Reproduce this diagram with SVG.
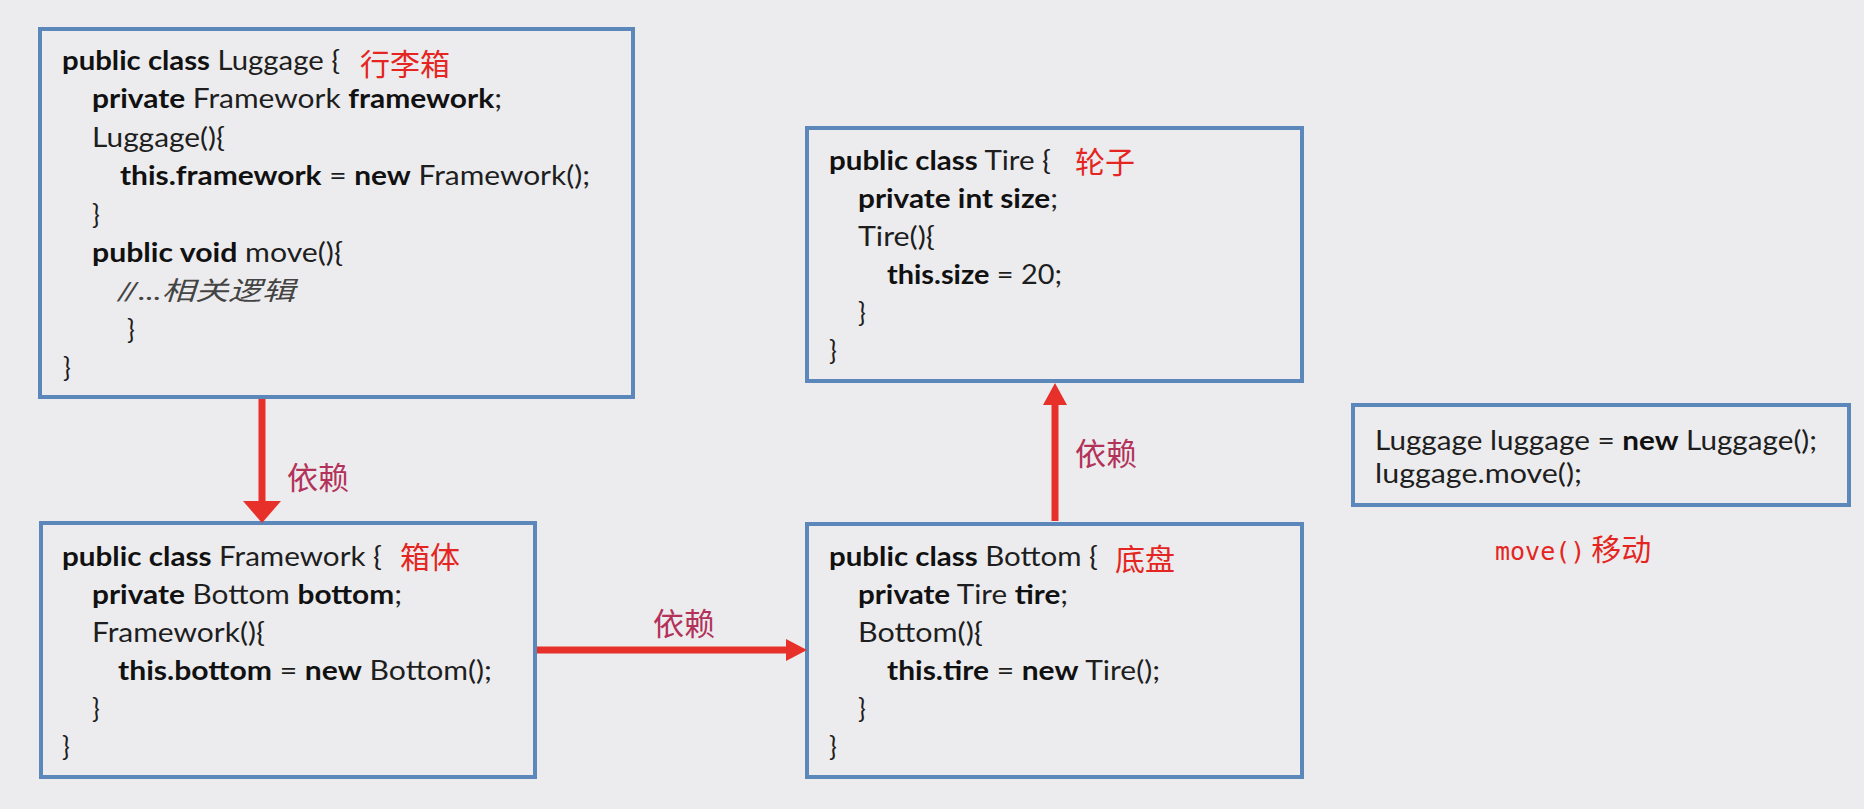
<svg xmlns="http://www.w3.org/2000/svg" width="1864" height="809" viewBox="0 0 1864 809">
<style>
 .bg{fill:#ececee}
 .box{fill:#ececee;stroke:#5b87bb;stroke-width:4}
 .code{font-family:Lato,"Noto Sans CJK SC",sans-serif;font-size:26px;fill:#1e1e1e}
 .b{font-weight:bold;fill:#111}
 .cm{font-style:italic;fill:#444}
 .red{font-family:"Noto Sans CJK SC",sans-serif;font-size:30px;fill:#e52521}
 .dep{font-family:"Noto Sans CJK SC",sans-serif;font-size:31px;fill:#b3325a}
 .mono{font-family:"DejaVu Sans Mono",monospace;font-size:25px}
 .shaft{stroke:#e8302a;stroke-width:7;fill:none}
 .head{fill:#e8302a}
</style>
<rect class="bg" x="0" y="0" width="1864" height="809"/>

<g id="luggage">
 <rect class="box" x="40" y="29" width="593" height="368"/>
 <text class="code" x="62" y="70" textLength="278" lengthAdjust="spacingAndGlyphs"><tspan class="b">public class</tspan> Luggage {</text>
 <text class="red" x="360" y="75">行李箱</text>
 <text class="code" x="92" y="108" textLength="410" lengthAdjust="spacingAndGlyphs"><tspan class="b">private</tspan> Framework <tspan class="b">framework</tspan>;</text>
 <text class="code" x="92" y="147" textLength="133" lengthAdjust="spacingAndGlyphs">Luggage(){</text>
 <text class="code" x="120" y="185" textLength="470" lengthAdjust="spacingAndGlyphs"><tspan class="b">this.framework</tspan> = <tspan class="b">new</tspan> Framework();</text>
 <text class="code" x="92" y="224">}</text>
 <text class="code" x="92" y="262" textLength="251" lengthAdjust="spacingAndGlyphs"><tspan class="b">public void</tspan> move(){</text>
 <text class="code cm" x="117" y="300" textLength="178" lengthAdjust="spacingAndGlyphs">//...相关逻辑</text>
 <text class="code" x="127" y="339">}</text>
 <text class="code" x="63" y="377">}</text>
</g>

<g id="framework">
 <rect class="box" x="41" y="523" width="494" height="254"/>
 <text class="code" x="62" y="566" textLength="320" lengthAdjust="spacingAndGlyphs"><tspan class="b">public class</tspan> Framework {</text>
 <text class="red" x="400" y="568">箱体</text>
 <text class="code" x="92" y="604" textLength="310" lengthAdjust="spacingAndGlyphs"><tspan class="b">private</tspan> Bottom <tspan class="b">bottom</tspan>;</text>
 <text class="code" x="92" y="642" textLength="173" lengthAdjust="spacingAndGlyphs">Framework(){</text>
 <text class="code" x="118" y="680" textLength="374" lengthAdjust="spacingAndGlyphs"><tspan class="b">this.bottom</tspan> = <tspan class="b">new</tspan> Bottom();</text>
 <text class="code" x="92" y="718">}</text>
 <text class="code" x="62" y="756">}</text>
</g>

<g id="tire">
 <rect class="box" x="807" y="128" width="495" height="253"/>
 <text class="code" x="829" y="170" textLength="222" lengthAdjust="spacingAndGlyphs"><tspan class="b">public class</tspan> Tire {</text>
 <text class="red" x="1075" y="173">轮子</text>
 <text class="code" x="858" y="208" textLength="200" lengthAdjust="spacingAndGlyphs"><tspan class="b">private int size</tspan>;</text>
 <text class="code" x="858" y="246" textLength="77" lengthAdjust="spacingAndGlyphs">Tire(){</text>
 <text class="code" x="887" y="284" textLength="175" lengthAdjust="spacingAndGlyphs"><tspan class="b">this.size</tspan> = 20;</text>
 <text class="code" x="858" y="322">}</text>
 <text class="code" x="829" y="360">}</text>
</g>

<g id="bottom">
 <rect class="box" x="807" y="524" width="495" height="253"/>
 <text class="code" x="829" y="566" textLength="269" lengthAdjust="spacingAndGlyphs"><tspan class="b">public class</tspan> Bottom {</text>
 <text class="red" x="1115" y="570">底盘</text>
 <text class="code" x="858" y="604" textLength="210" lengthAdjust="spacingAndGlyphs"><tspan class="b">private</tspan> Tire <tspan class="b">tire</tspan>;</text>
 <text class="code" x="858" y="642" textLength="125" lengthAdjust="spacingAndGlyphs">Bottom(){</text>
 <text class="code" x="887" y="680" textLength="273" lengthAdjust="spacingAndGlyphs"><tspan class="b">this.tire</tspan> = <tspan class="b">new</tspan> Tire();</text>
 <text class="code" x="858" y="718">}</text>
 <text class="code" x="829" y="756">}</text>
</g>

<g id="main">
 <rect class="box" x="1353" y="405" width="496" height="100"/>
 <text class="code" x="1375" y="450" textLength="442" lengthAdjust="spacingAndGlyphs">Luggage luggage = <tspan class="b">new</tspan> Luggage();</text>
 <text class="code" x="1375" y="483" textLength="207" lengthAdjust="spacingAndGlyphs">luggage.move();</text>
 <text class="red" x="1495" y="560"><tspan class="mono">move()</tspan><tspan dx="6">移动</tspan></text>
</g>

<g id="connectors">
 <line class="shaft" x1="262" y1="399" x2="262" y2="503"/>
 <polygon class="head" points="243,501 281,501 262,523"/>
 <text class="dep" x="287" y="489">依赖</text>

 <line class="shaft" x1="537" y1="650" x2="788" y2="650"/>
 <polygon class="head" points="786,639 786,661 807,650"/>
 <text class="dep" x="653" y="635">依赖</text>

 <line class="shaft" x1="1055" y1="521" x2="1055" y2="403"/>
 <polygon class="head" points="1043,405 1067,405 1055,383"/>
 <text class="dep" x="1075" y="465">依赖</text>
</g>
</svg>
